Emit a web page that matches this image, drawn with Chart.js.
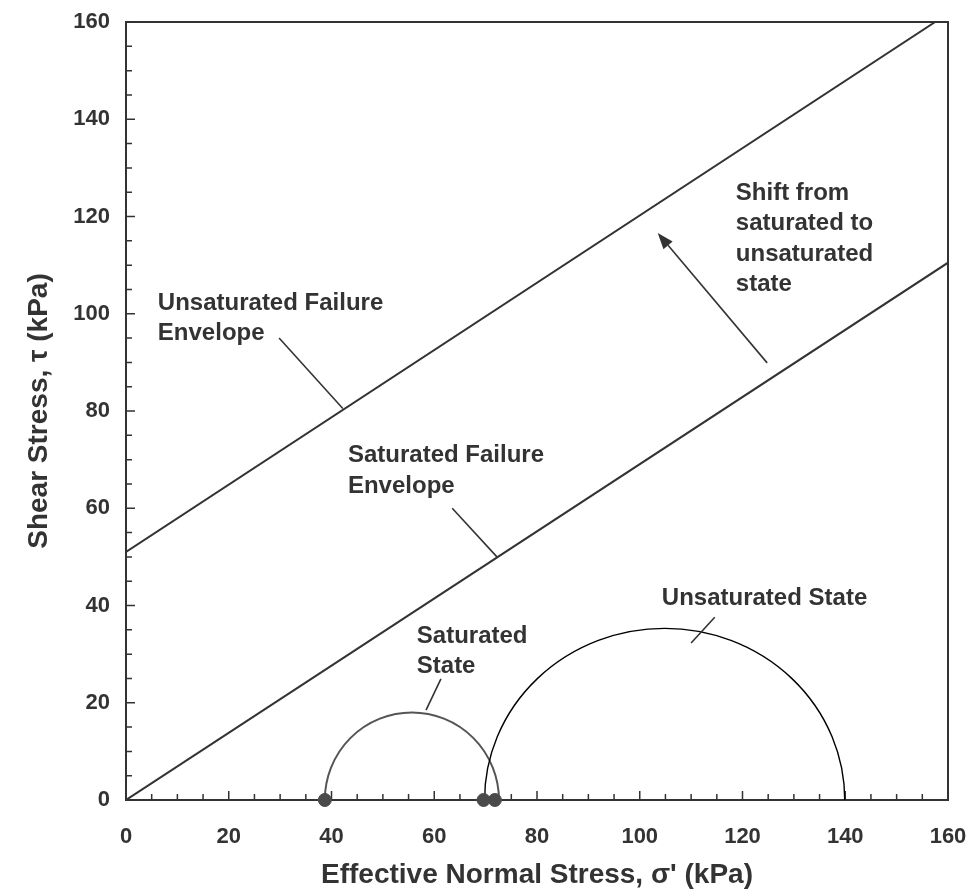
<!DOCTYPE html>
<html>
<head>
<meta charset="utf-8">
<script src="https://cdn.jsdelivr.net/npm/chart.js@4"></script>
<style>
  body { margin: 0; background: #fff; }
  canvas { display: block; }
</style>
</head>
<body>
<canvas id="chart" width="978" height="896"></canvas>
<script>
/* DATA */
const tickValues = [0, 20, 40, 60, 80, 100, 120, 140, 160];
const saturatedEnvelopeX = [0, 160];
const saturatedEnvelopeY = [0, 110.5];
const unsaturatedEnvelopeX = [0, 157.5];
const unsaturatedEnvelopeY = [51, 160];
const circleNames = ["Saturated State", "Unsaturated State"];
const circleSigma3 = [38.7, 69.8];
const circleSigma1 = [72.6, 139.9];
const circlePeak = [18, 35.3];
const stressPoints = [38.7, 69.6, 71.8];

/* STYLE */
const INK = "#333";
const FONT = "'Liberation Sans', Arial, Helvetica, sans-serif";
const MINOR_STEP = 5;
const circleStyle = [
  { color: "#555", width: 2 },
  { color: "#000", width: 1.4 }
];

/* ANNOTATIONS (data coords, baseline of first line) */
const notes = [
  { lines: ["Unsaturated Failure", "Envelope"], x: 6.2, y: 100.8, leader: [[29.8, 95.0], [42.2, 80.5]] },
  { lines: ["Saturated Failure", "Envelope"], x: 43.2, y: 69.5, leader: [[63.5, 60.0], [72.2, 50.0]] },
  { lines: ["Saturated", "State"], x: 56.6, y: 32.3, leader: [[61.3, 24.9], [58.4, 18.5]] },
  { lines: ["Unsaturated State"], x: 104.3, y: 40.1, leader: [[114.6, 37.6], [110.0, 32.3]] },
  { lines: ["Shift from", "saturated to", "unsaturated", "state"], x: 118.7, y: 123.4 }
];
const arrow = { from: [124.8, 89.9], to: [103.5, 116.6] };

const toPts = (xs, ys) => xs.map((x, i) => ({ x, y: ys[i] }));

/* CUSTOM DRAWING: frame, inward ticks, Mohr circles, notes */
const figurePlugin = {
  id: "figure",
  beforeDatasetsDraw(chart) {
    const { ctx, chartArea: a, scales: { x, y } } = chart;
    ctx.save();
    ctx.strokeStyle = INK;
    ctx.lineWidth = 2;
    ctx.strokeRect(a.left, a.top, a.right - a.left, a.bottom - a.top);

    ctx.lineWidth = 1.5;
    for (let v = 0; v <= 160; v += MINOR_STEP) {
      const len = v % 20 === 0 ? 9 : 6;
      const px = x.getPixelForValue(v);
      const py = y.getPixelForValue(v);
      ctx.beginPath();
      ctx.moveTo(px, a.bottom); ctx.lineTo(px, a.bottom - len);
      ctx.moveTo(a.left, py); ctx.lineTo(a.left + len, py);
      ctx.stroke();
    }

    circleNames.forEach((name, i) => {
      const cx = x.getPixelForValue((circleSigma3[i] + circleSigma1[i]) / 2);
      const rx = x.getPixelForValue(circleSigma1[i]) - cx;
      const cy = y.getPixelForValue(0);
      const ry = cy - y.getPixelForValue(circlePeak[i]);
      ctx.strokeStyle = circleStyle[i].color;
      ctx.lineWidth = circleStyle[i].width;
      ctx.beginPath();
      ctx.ellipse(cx, cy, rx, ry, 0, Math.PI, 2 * Math.PI);
      ctx.stroke();
    });
    ctx.restore();
  },
  afterDraw(chart) {
    const { ctx, scales: { x, y } } = chart;
    const P = p => [x.getPixelForValue(p[0]), y.getPixelForValue(p[1])];
    ctx.save();
    ctx.fillStyle = INK;
    ctx.strokeStyle = INK;
    ctx.lineWidth = 1.6;
    ctx.font = "bold 24px " + FONT;
    ctx.textBaseline = "alphabetic";
    notes.forEach(n => {
      const [tx, ty] = P([n.x, n.y]);
      n.lines.forEach((t, k) => ctx.fillText(t, tx, ty + k * 30.5));
      if (n.leader) {
        const [a0, b0] = P(n.leader[0]);
        const [a1, b1] = P(n.leader[1]);
        ctx.beginPath(); ctx.moveTo(a0, b0); ctx.lineTo(a1, b1); ctx.stroke();
      }
    });

    const [fx, fy] = P(arrow.from);
    const [tx, ty] = P(arrow.to);
    const ang = Math.atan2(ty - fy, tx - fx);
    const head = 16, half = 6;
    const bx = tx - head * Math.cos(ang), by = ty - head * Math.sin(ang);
    ctx.beginPath(); ctx.moveTo(fx, fy); ctx.lineTo(bx, by); ctx.stroke();
    ctx.beginPath();
    ctx.moveTo(tx, ty);
    ctx.lineTo(bx + half * Math.sin(ang), by - half * Math.cos(ang));
    ctx.lineTo(bx - half * Math.sin(ang), by + half * Math.cos(ang));
    ctx.closePath();
    ctx.fill();
    ctx.restore();
  }
};

const axisCommon = {
  type: "linear",
  min: 0,
  max: 160,
  grid: { display: false, drawTicks: false },
  border: { display: false },
  afterBuildTicks: s => { s.ticks = tickValues.map(v => ({ value: v })); }
};

new Chart(document.getElementById("chart"), {
  type: "scatter",
  data: {
    datasets: [
      { label: "Unsaturated Failure Envelope", data: toPts(unsaturatedEnvelopeX, unsaturatedEnvelopeY),
        showLine: true, borderColor: INK, borderWidth: 2, pointRadius: 0 },
      { label: "Saturated Failure Envelope", data: toPts(saturatedEnvelopeX, saturatedEnvelopeY),
        showLine: true, borderColor: INK, borderWidth: 2, pointRadius: 0 },
      { label: "Stress states", data: stressPoints.map(v => ({ x: v, y: 0 })),
        pointRadius: 6.5, backgroundColor: "#4a4a4a", borderColor: "#4a4a4a", clip: false }
    ]
  },
  options: {
    responsive: false,
    animation: false,
    devicePixelRatio: 1,
    layout: { padding: { top: 22, right: 30, left: 0, bottom: 0 } },
    plugins: { legend: { display: false }, tooltip: { enabled: false } },
    scales: {
      x: {
        ...axisCommon,
        afterFit: s => { s.height = 96; s.paddingLeft = 0; s.paddingRight = 0; },
        ticks: { padding: 24, color: INK, font: { family: FONT, size: 22, weight: "bold" } },
        title: { display: true, text: "Effective Normal Stress, σ' (kPa)", color: INK,
          padding: { top: 0, bottom: 4 }, font: { family: FONT, size: 28, weight: "bold" } }
      },
      y: {
        ...axisCommon,
        afterFit: s => { s.width = 126; s.paddingTop = 0; s.paddingBottom = 0; },
        ticks: { padding: 16, color: INK, font: { family: FONT, size: 22, weight: "bold" } },
        title: { display: true, text: "Shear Stress, τ (kPa)", color: INK,
          padding: { top: 22, bottom: 0 }, font: { family: FONT, size: 28, weight: "bold" } }
      }
    }
  },
  plugins: [figurePlugin]
});
</script>
</body>
</html>
